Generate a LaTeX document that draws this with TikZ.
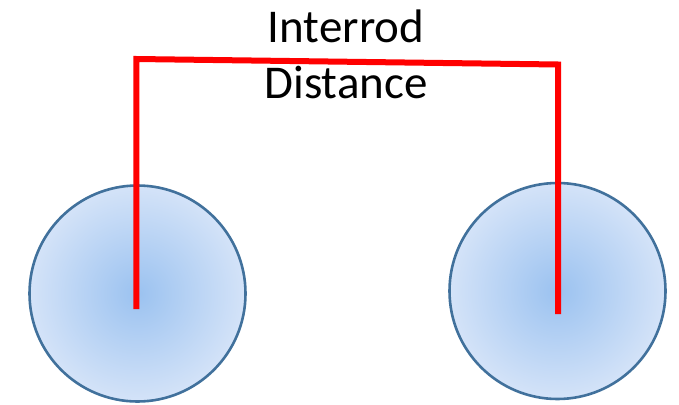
\documentclass[tikz,border=0pt]{standalone}
\usepackage{fontspec}
\setmainfont{Carlito}
\definecolor{rodin}{RGB}{155,194,240}
\definecolor{rodout}{RGB}{212,227,248}
\definecolor{rodedge}{RGB}{65,113,156}
\pgfdeclareradialshading{rodshade}{\pgfpoint{0bp}{0bp}}{color(0bp)=(rodin); color(25bp)=(rodout); color(50bp)=(rodout)}
\begin{document}
\begin{tikzpicture}[x=1pt,y=-1pt,
  rod/.style={circle, draw=rodedge, line width=2.6pt, minimum size=216pt, inner sep=0pt, shading=rodshade},
  marker/.style={draw=red, line width=6pt},
  label/.style={font=\fontsize{47}{56}\selectfont, align=center, anchor=base}]
\useasboundingbox (0,0) rectangle (679,404);
\node[rod] (rodL) at (137.5,293.5) {};
\node[rod] (rodR) at (557.5,291) {};
\coordinate (endL) at (136.3,309);
\coordinate (cornerL) at (136.3,59);
\coordinate (cornerR) at (558,64.5);
\coordinate (endR) at (558,314);
\draw[marker] (endL) -- (cornerL) -- (cornerR) -- (endR);
\node[label] (title) at (346,98) {Interrod\\Distance};
\end{tikzpicture}
\end{document}
